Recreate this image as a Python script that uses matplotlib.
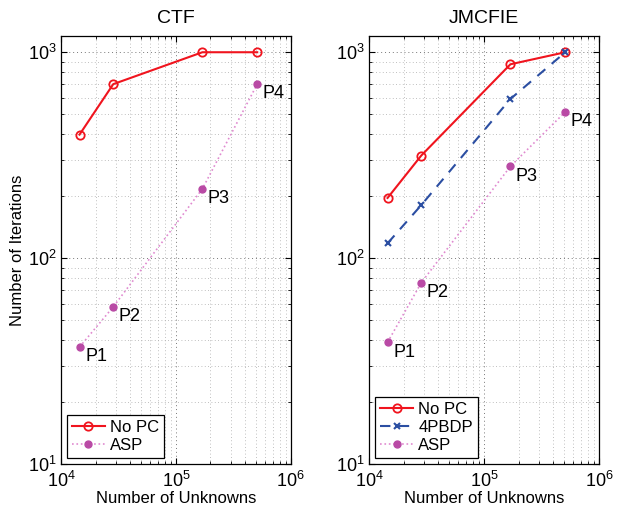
import matplotlib
matplotlib.use("Agg")
import matplotlib.pyplot as plt
import numpy as np

plt.rcParams['font.family'] = ['Liberation Sans', 'DejaVu Sans']
plt.rcParams['mathtext.fontset'] = 'custom'
plt.rcParams['mathtext.rm'] = 'Liberation Sans'

unknowns = [14500, 28500, 170000, 510000]
labels_p = ["P1", "P2", "P3", "P4"]

ctf_nopc = [398, 700, 1000, 1000]
ctf_asp = [37, 58, 217, 700]

jm_nopc = [196, 315, 874, 1000]
jm_4pbdp = [118, 181, 593, 1000]
jm_asp = [39, 76, 279, 513]

RED = '#f0141e'
BLUE = '#2b4ea2'
MAG = '#b94aa5'
MAGL = '#e08ad0'

fig = plt.figure(figsize=(6.28, 5.09), dpi=100)
ax1 = fig.add_axes([0.0971, 0.0884, 0.366, 0.841])
ax2 = fig.add_axes([0.5876, 0.0884, 0.366, 0.841])

def style(ax, title):
    ax.set_xscale('log')
    ax.set_yscale('log')
    ax.set_xlim(1e4, 1e6)
    ax.set_ylim(10, 1200)
    ax.set_title(title, fontsize=14, pad=9)
    ax.set_xlabel("Number of Unknowns", fontsize=12, labelpad=0)
    ax.grid(True, which='major', linestyle=(0, (1, 3)), color='#777777', linewidth=0.7)
    ax.grid(True, which='minor', linestyle=(0, (1, 3)), color='#aaaaaa', linewidth=0.6)
    ax.tick_params(which='both', direction='in', top=True, right=True, labelsize=13)
    ax.tick_params(which='major', length=4, pad=3)
    ax.tick_params(axis='x', which='major', pad=5)
    ax.tick_params(which='minor', length=2)
    for s in ax.spines.values():
        s.set_linewidth(0.9)

def annotate(ax, ys):
    for x, y, t in zip(unknowns, ys, labels_p):
        ax.annotate(t, (x, y), xytext=(4, -7), textcoords='offset points',
                    fontsize=13, ha='left', va='center')

def legend(ax):
    leg = ax.legend(loc='lower left', fontsize=12, fancybox=False, framealpha=1,
                    edgecolor='black', handlelength=2.0, borderpad=0.3, labelspacing=0.2,
                    handletextpad=0.3, borderaxespad=0.35)
    leg.get_frame().set_linewidth(0.9)

style(ax1, "CTF")
ax1.plot(unknowns, ctf_nopc, '-o', color=RED, lw=1.5, ms=6, mfc='none', mew=1.3, label='No PC')
ax1.plot(unknowns, ctf_asp, ':', color=MAGL, lw=1.2, marker='o', ms=5, mfc=MAG, mec=MAG, label='ASP')
annotate(ax1, ctf_asp)
ax1.set_ylabel("Number of Iterations", fontsize=12, labelpad=2)
legend(ax1)

style(ax2, "JMCFIE")
ax2.plot(unknowns, jm_nopc, '-o', color=RED, lw=1.5, ms=6, mfc='none', mew=1.3, label='No PC')
ax2.plot(unknowns, jm_4pbdp, '--x', color=BLUE, lw=1.5, ms=5, mew=1.5, dashes=(5, 4), label='4PBDP')
ax2.plot(unknowns, jm_asp, ':', color=MAGL, lw=1.2, marker='o', ms=5, mfc=MAG, mec=MAG, label='ASP')
annotate(ax2, jm_asp)
legend(ax2)

fig.savefig("out.png", dpi=100)
